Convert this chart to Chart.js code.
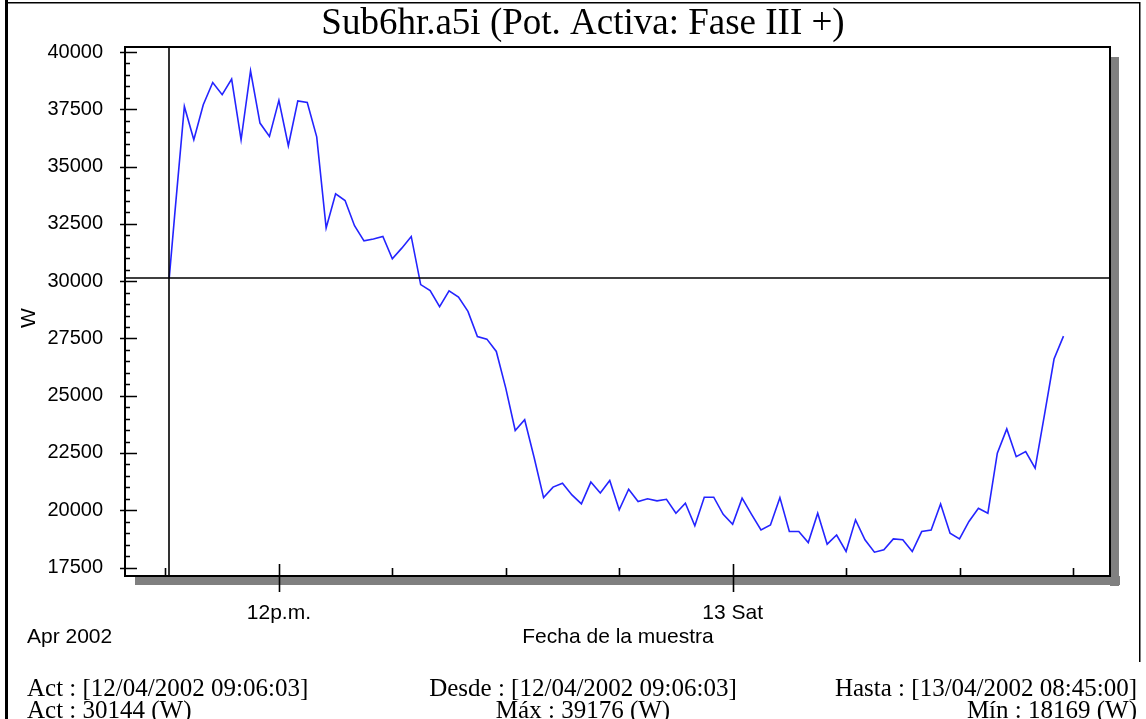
<!DOCTYPE html>
<html><head><meta charset="utf-8">
<script src="https://cdn.jsdelivr.net/npm/chart.js@4/dist/chart.umd.min.js"></script>
<style>html,body{margin:0;padding:0;background:#fff;overflow:hidden}canvas{display:block}</style>
</head><body><canvas id="c" width="1146" height="719"></canvas>
<script>
// ---- data ----
const sampleTimes = ["09:06","09:15","09:30","09:45","10:00","10:15","10:30","10:45","11:00","11:15","11:30","11:45",
"12:00","12:15","12:30","12:45","13:00","13:15","13:30","13:45","14:00","14:15","14:30","14:45",
"15:00","15:15","15:30","15:45","16:00","16:15","16:30","16:45","17:00","17:15","17:30","17:45",
"18:00","18:15","18:30","18:45","19:00","19:15","19:30","19:45","20:00","20:15","20:30","20:45",
"21:00","21:15","21:30","21:45","22:00","22:15","22:30","22:45","23:00","23:15","23:30","23:45",
"00:00","00:15","00:30","00:45","01:00","01:15","01:30","01:45","02:00","02:15","02:30","02:45",
"03:00","03:15","03:30","03:45","04:00","04:15","04:30","04:45","05:00","05:15","05:30","05:45",
"06:00","06:15","06:30","06:45","07:00","07:15","07:30","07:45","08:00","08:15","08:30","08:45"];
const powerW = [30144,33000,37625,36170,37700,38670,38140,38820,36170,39176,36900,36320,
37890,35910,37870,37800,36300,32320,33810,33520,32420,31760,31840,31950,
30980,31440,31950,29850,29590,28890,29580,29300,28680,27580,27470,26930,
25330,23480,23950,22300,20550,21010,21180,20670,20280,21230,20750,21300,
20020,20920,20380,20500,20410,20480,19870,20310,19320,20570,20570,19820,
19390,20530,19820,19140,19360,20550,19070,19070,18590,19870,18520,18920,
18200,19580,18710,18169,18270,18750,18710,18200,19070,19140,20270,19000,
18750,19510,20090,19870,22490,23550,22340,22560,21840,24200,26600,27600];
const yTickValues = [17500,20000,22500,25000,27500,30000,32500,35000,37500,40000];
const xTickHours = [9,12,15,18,21,24,27,30,33];
const xTickLabels = {12:"12p.m.",24:"13 Sat"};
const titleText = "Sub6hr.a5i (Pot. Activa: Fase III +)";
const yAxisTitle = "W";
const xAxisTitle = "Fecha de la muestra";
const periodLabel = "Apr 2002";
const footerRow1 = ["Act : [12/04/2002 09:06:03]","Desde : [12/04/2002 09:06:03]","Hasta : [13/04/2002 08:45:00]"];
const footerRow2 = ["Act : 30144 (W)","Máx : 39176 (W)","Mín : 18169 (W)"];

// convert clock strings to hours since 12/04 00:00
let dayOff = 0, prev = -1;
const hours = sampleTimes.map(s => {
  const [h, m] = s.split(":").map(Number);
  let v = h + m / 60;
  if (v < prev) dayOff += 24;
  prev = v;
  return v + dayOff;
});
const points = hours.map((h, i) => ({x: h, y: powerW[i]}));

const SANS = "'Liberation Sans', Arial, sans-serif";
const SERIF = "'Liberation Serif', 'Times New Roman', serif";

const deco = {
  id: "deco",
  beforeDraw(chart) {
    const {ctx, chartArea: a} = chart;
    ctx.save();
    ctx.fillStyle = "#fff";
    ctx.fillRect(0, 0, chart.width, chart.height);
    // drop shadow
    ctx.fillStyle = "#808080";
    ctx.fillRect(a.left + 10, a.bottom, a.right - a.left, 9);
    ctx.fillRect(a.right, a.top + 10, 9, a.bottom - a.top);
    // outer frame
    ctx.fillStyle = "#000";
    ctx.fillRect(5, 0, 3, chart.height);
    ctx.fillRect(5, 2, 1135, 1.5);
    ctx.fillRect(1139, 2, 1.5, 660);
    ctx.restore();
  },
  afterDatasetsDraw(chart) {
    const {ctx, chartArea: a, scales: {x, y}} = chart;
    ctx.save();
    // cursor crosshair at first sample
    const cx = Math.round(x.getPixelForValue(hours[0]));
    const cy = Math.round(y.getPixelForValue(powerW[0]));
    ctx.strokeStyle = "#000";
    ctx.lineWidth = 1.6;
    ctx.beginPath();
    ctx.moveTo(cx, a.top); ctx.lineTo(cx, a.bottom);
    ctx.moveTo(a.left, cy); ctx.lineTo(a.right, cy);
    ctx.stroke();
    // plot border
    ctx.lineWidth = 2;
    ctx.strokeRect(a.left, a.top, a.right - a.left, a.bottom - a.top);
    // y ticks
    ctx.lineWidth = 1.6;
    ctx.beginPath();
    for (let v = 17500; v <= 40000; v += 500) {
      const py = Math.round(y.getPixelForValue(v)) + 0.5;
      if (v % 2500 === 0) { ctx.moveTo(a.left - 5, py); ctx.lineTo(a.left + 12, py); }
      else { ctx.moveTo(a.left, py); ctx.lineTo(a.left + 5, py); }
    }
    // x ticks
    xTickHours.forEach(h => {
      const px = Math.round(x.getPixelForValue(h)) + 0.5;
      if (xTickLabels[h]) { ctx.moveTo(px, a.bottom - 12); ctx.lineTo(px, a.bottom + 16); }
      else { ctx.moveTo(px, a.bottom - 8); ctx.lineTo(px, a.bottom); }
    });
    ctx.stroke();
    // texts
    ctx.fillStyle = "#000";
    ctx.textBaseline = "middle";
    ctx.font = "37px " + SERIF;
    ctx.textAlign = "center";
    ctx.fillText(titleText, 583, 24);
    ctx.font = "21px " + SANS;
    ctx.textAlign = "left";
    ctx.fillText(periodLabel, 27, 637);
    ctx.textAlign = "center";
    ctx.fillText(xAxisTitle, 618, 637);
    ctx.save();
    ctx.translate(29, 318);
    ctx.rotate(-Math.PI / 2);
    ctx.fillText(yAxisTitle, 0, 0);
    ctx.restore();
    ctx.font = "25px " + SERIF;
    const rows = [[footerRow1, 689], [footerRow2, 711]];
    rows.forEach(([r, ty]) => {
      ctx.textAlign = "left"; ctx.fillText(r[0], 27, ty);
      ctx.textAlign = "center"; ctx.fillText(r[1], 583, ty);
      ctx.textAlign = "right"; ctx.fillText(r[2], 1137, ty);
    });
    ctx.restore();
  }
};

new Chart(document.getElementById("c"), {
  type: "line",
  data: { datasets: [{ data: points, borderColor: "#2424ff", borderWidth: 1.6, pointRadius: 0, tension: 0, fill: false }] },
  options: {
    responsive: false, animation: false, devicePixelRatio: 1,
    layout: { padding: { left: 0, top: 47, right: 36, bottom: 0 } },
    plugins: { legend: { display: false }, tooltip: { enabled: false }, title: { display: false } },
    scales: {
      x: {
        type: "linear", min: 7.93, max: 33.98,
        afterFit(s) { s.height = 143; },
        afterBuildTicks(s) { s.ticks = xTickHours.map(v => ({value: v})); },
        grid: { display: false, drawTicks: false },
        border: { display: false },
        ticks: { autoSkip: false, maxRotation: 0, padding: 25, color: "#000",
          font: { family: SANS, size: 21 },
          callback: v => xTickLabels[v] || "" }
      },
      y: {
        min: 17130, max: 40220,
        afterFit(s) { s.width = 125; },
        afterBuildTicks(s) { s.ticks = yTickValues.map(v => ({value: v})); },
        grid: { display: false, drawTicks: false },
        border: { display: false },
        ticks: { padding: 22, color: "#000", font: { family: SANS, size: 20 }, callback: v => String(v) }
      }
    }
  },
  plugins: [deco]
});
</script>
</body></html>
